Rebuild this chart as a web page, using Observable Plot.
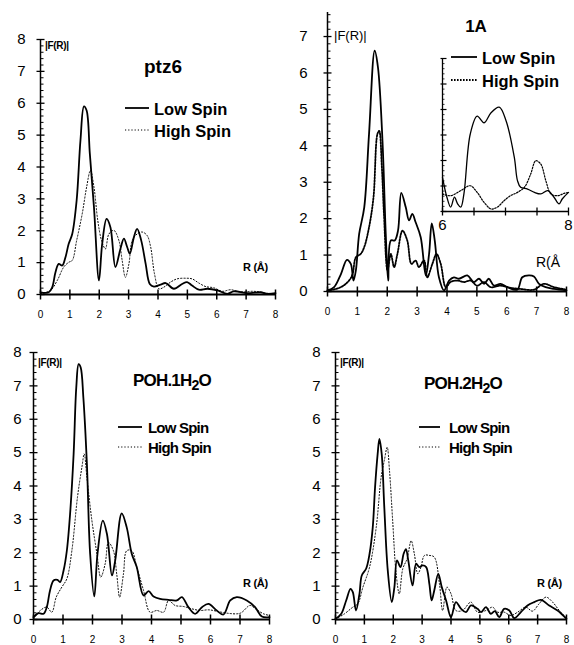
<!DOCTYPE html>
<html><head><meta charset="utf-8">
<script src="https://cdn.jsdelivr.net/npm/d3@7"></script>
<script src="https://cdn.jsdelivr.net/npm/@observablehq/plot@0.6"></script>
<style>
body{margin:0;background:#fff;}
#root{position:relative;width:574px;height:645px;font-family:"Liberation Sans",Arial,sans-serif;color:#000;overflow:hidden;background:#fff}
.abs{position:absolute;white-space:nowrap;line-height:1}
.plot{position:absolute}
svg{overflow:visible}
</style></head><body><div id="root"></div>
<script>
// ---------- DATA (R in Å, |F(R)|) ----------
const rTicks = [0,1,2,3,4,5,6,7,8];
const insetTicks = [6,6.5,7,7.5,8];
const insetLabels = [6,8];
const seriesNames = ["Low Spin","High Spin"];
const panelTitles = ["ptz6","1A","POH.1H<sub>2</sub>O","POH.2H<sub>2</sub>O"];

const ptz6Low = [[0,0.07],[0.28,0.07],[0.40,0.23],[0.51,0.70],[0.62,0.96],[0.74,0.91],[0.85,1.17],[0.96,1.59],[1.08,1.90],[1.23,2.95],[1.36,4.83],[1.48,5.90],[1.57,5.77],[1.68,4.41],[1.82,2.74],[1.99,0.44],[2.10,1.59],[2.25,2.37],[2.38,2.11],[2.55,0.86],[2.72,1.43],[2.84,1.75],[2.95,1.49],[3.04,1.28],[3.18,1.80],[3.29,2.06],[3.43,1.69],[3.58,0.96],[3.72,0.33],[3.86,0.25],[4.09,0.31],[4.26,0.36],[4.54,0.18],[4.82,0.33],[4.99,0.39],[5.16,0.28],[5.39,0.15],[5.68,0.18],[6.02,0.13],[6.36,0.02],[6.58,0.10],[7.04,0.04],[7.49,0.07],[7.72,0.02],[8,0.04]];
const ptz6High = [[0,0.02],[0.34,0.13],[0.57,0.44],[0.79,0.86],[0.96,1.01],[1.08,1.07],[1.23,1.69],[1.42,2.53],[1.57,3.37],[1.70,3.89],[1.82,3.37],[1.95,2.32],[2.08,1.69],[2.21,1.43],[2.33,1.90],[2.50,2.01],[2.67,1.69],[2.78,1.07],[2.89,0.54],[3.01,0.96],[3.12,1.69],[3.29,1.90],[3.46,1.96],[3.63,1.85],[3.75,1.49],[3.88,0.65],[4.03,0.18],[4.20,0.23],[4.43,0.39],[4.65,0.49],[4.94,0.51],[5.16,0.49],[5.39,0.36],[5.62,0.25],[5.90,0.21],[6.19,0.10],[6.47,0.15],[6.81,0.08],[7.26,0.10],[7.72,0.04],[8,0.02]];

const a1Low = [[0,0.03],[0.22,0.12],[0.45,0.48],[0.65,0.87],[0.78,0.76],[0.87,0.30],[0.95,0.58],[1.06,1.58],[1.23,2.31],[1.39,4.32],[1.58,6.61],[1.69,6.15],[1.84,4.14],[1.95,1.58],[2.03,0.30],[2.12,1.40],[2.25,1.40],[2.36,1.67],[2.47,2.71],[2.62,2.31],[2.73,1.95],[2.84,2.13],[2.95,1.90],[3.12,1.49],[3.29,0.44],[3.40,1.03],[3.49,1.87],[3.59,1.40],[3.73,0.39],[3.90,0.03],[4.07,0.30],[4.23,0.39],[4.40,0.35],[4.68,0.44],[4.90,0.26],[5.07,0.35],[5.24,0.21],[5.40,0.35],[5.57,0.16],[5.79,0.21],[6.02,0.12],[6.35,0.05],[6.52,0.39],[6.74,0.44],[6.91,0.41],[7.08,0.21],[7.30,0.12],[7.58,0.07],[8,0.03]];
const a1High = [[0,0.02],[0.45,0.12],[0.72,0.30],[0.84,0.48],[0.95,0.94],[1.11,1.03],[1.23,1.22],[1.39,1.76],[1.54,2.59],[1.67,4.32],[1.73,4.41],[1.82,3.41],[1.89,2.13],[2.01,0.58],[2.12,1.03],[2.23,0.67],[2.34,1.03],[2.51,1.67],[2.67,1.40],[2.81,0.76],[2.95,0.85],[3.06,0.67],[3.23,0.85],[3.34,0.39],[3.51,0.76],[3.65,1.03],[3.79,0.76],[3.96,0.12],[4.12,0.26],[4.35,0.30],[4.57,0.26],[4.79,0.30],[5.01,0.16],[5.24,0.26],[5.46,0.12],[5.79,0.16],[6.13,0.10],[6.46,0.07],[6.91,0.05],[7.24,0.21],[7.58,0.12],[8,0.05]];

const a1InsetLow = [[6.0,0.134],[6.07,0.056],[6.13,0.017],[6.19,0.056],[6.24,0.030],[6.29,0.017],[6.34,0.069],[6.44,0.303],[6.55,0.374],[6.66,0.348],[6.77,0.387],[6.90,0.409],[7.01,0.355],[7.14,0.212],[7.19,0.121],[7.24,0.095],[7.35,0.088],[7.46,0.075],[7.56,0.069],[7.67,0.082],[7.77,0.056],[7.85,0.030],[7.90,0.049],[8.0,0.075]];
const a1InsetHigh = [[6.0,0.069],[6.13,0.062],[6.29,0.082],[6.44,0.101],[6.55,0.075],[6.66,0.036],[6.77,0.010],[6.87,0.017],[6.98,0.043],[7.08,0.062],[7.19,0.075],[7.30,0.095],[7.40,0.147],[7.48,0.199],[7.56,0.186],[7.64,0.121],[7.72,0.069],[7.83,0.062],[7.93,0.071],[8.0,0.075]];

const poh1Low = [[0,0.07],[0.17,0.19],[0.34,0.17],[0.45,0.37],[0.56,0.87],[0.68,1.17],[0.81,1.19],[0.90,1.12],[1.02,1.47],[1.13,2.06],[1.24,3.16],[1.36,4.96],[1.45,6.95],[1.53,7.65],[1.60,7.55],[1.69,6.65],[1.81,4.66],[1.92,1.97],[2.06,0.69],[2.17,1.97],[2.35,2.96],[2.49,2.56],[2.66,1.32],[2.77,1.77],[2.99,3.18],[3.16,2.76],[3.33,1.97],[3.50,1.57],[3.73,0.72],[3.90,0.85],[4.07,0.69],[4.29,0.62],[4.58,0.59],[4.86,0.57],[5.03,0.67],[5.25,0.37],[5.48,0.17],[5.71,0.37],[5.93,0.47],[6.21,0.27],[6.44,0.15],[6.67,0.57],[6.89,0.67],[7.23,0.57],[7.51,0.37],[7.74,0.09],[8,0.07]];
const poh1High = [[0,0.02],[0.23,0.27],[0.45,0.37],[0.62,0.22],[0.77,0.67],[0.96,0.97],[1.13,1.22],[1.30,2.06],[1.49,3.66],[1.64,4.56],[1.72,4.96],[1.81,4.26],[1.98,2.96],[2.15,1.97],[2.28,1.27],[2.43,1.67],[2.54,2.31],[2.71,2.06],[2.82,1.37],[2.92,0.67],[3.05,1.37],[3.16,2.06],[3.33,2.06],[3.50,1.57],[3.73,0.87],[3.95,0.22],[4.18,0.27],[4.41,0.22],[4.58,0.57],[4.80,0.42],[5.08,0.39],[5.37,0.32],[5.65,0.27],[5.93,0.29],[6.21,0.25],[6.55,0.19],[7.01,0.19],[7.34,0.42],[7.57,0.29],[7.80,0.17],[8,0.12]];

const poh2Low = [[0,0.02],[0.20,0.17],[0.37,0.57],[0.52,0.92],[0.60,0.82],[0.71,0.27],[0.83,0.77],[0.91,1.32],[1.06,1.52],[1.18,1.97],[1.29,2.76],[1.37,3.96],[1.46,4.96],[1.52,5.41],[1.60,4.96],[1.69,3.36],[1.81,1.47],[1.95,0.52],[2.04,0.97],[2.13,1.77],[2.25,1.57],[2.36,1.97],[2.44,2.11],[2.52,1.77],[2.67,1.02],[2.79,1.67],[2.90,1.57],[3.02,1.62],[3.14,1.57],[3.25,1.07],[3.33,0.57],[3.42,0.87],[3.56,1.37],[3.68,0.97],[3.83,0.57],[4.00,0.07],[4.17,0.52],[4.35,0.32],[4.52,0.22],[4.69,0.42],[4.92,0.32],[5.04,0.22],[5.21,0.37],[5.38,0.17],[5.52,0.25],[5.67,0.07],[5.84,0.32],[6.02,0.27],[6.19,0.04],[6.42,0.22],[6.65,0.42],[6.88,0.52],[7.11,0.59],[7.40,0.42],[7.69,0.27],[8,0.02]];
const poh2High = [[0,0.01],[0.31,0.17],[0.60,0.37],[0.77,0.47],[0.95,0.97],[1.18,1.57],[1.41,2.76],[1.58,4.26],[1.69,4.76],[1.79,5.16],[1.87,4.46],[1.98,2.96],[2.10,1.37],[2.21,0.77],[2.33,1.52],[2.48,1.82],[2.62,2.36],[2.73,1.97],[2.85,1.37],[2.96,1.57],[3.08,1.92],[3.25,1.92],[3.42,1.87],[3.60,1.07],[3.71,0.27],[3.86,0.97],[4.00,0.77],[4.17,0.27],[4.40,0.27],[4.69,0.52],[4.92,0.22],[5.21,0.27],[5.44,0.37],[5.61,0.22],[5.84,0.22],[6.07,0.12],[6.31,0.22],[6.59,0.37],[6.82,0.25],[7.05,0.47],[7.29,0.67],[7.52,0.52],[7.75,0.27],[8,0.04]];

// ---------- helpers ----------
const root = document.getElementById("root");
const FONT = '"Liberation Sans", Arial, sans-serif';
const TICKC = "#000";

const vTick = (up, down) => ({draw(c) { c.moveTo(0, -up); c.lineTo(0, down); }});
const hTick = (left, right) => ({draw(c) { c.moveTo(-left, 0); c.lineTo(right, 0); }});

function place(node, left, top) {
  node.classList.add("plot");
  node.style.left = left + "px";
  node.style.top = top + "px";
  root.appendChild(node);
}
function addText(html, x, y, {size = 12, weight = "normal", anchor = "start", spacing = 0} = {}) {
  const d = document.createElement("div");
  d.className = "abs";
  d.innerHTML = html;
  d.style.left = x + "px";
  d.style.top = y + "px";
  d.style.fontSize = size + "px";
  d.style.fontWeight = weight;
  d.style.letterSpacing = spacing + "px";
  d.style.transform = `translate(${anchor === "middle" ? "-50%" : "0"}, -50%)`;
  root.appendChild(d);
}
function addLegendLine(x1, x2, y, {width = 1.8, dash = null} = {}) {
  const ns = "http://www.w3.org/2000/svg";
  const s = document.createElementNS(ns, "svg");
  s.setAttribute("width", x2 - x1); s.setAttribute("height", 6);
  s.style.position = "absolute"; s.style.left = x1 + "px"; s.style.top = (y - 3) + "px";
  const l = document.createElementNS(ns, "line");
  l.setAttribute("x1", 0); l.setAttribute("x2", x2 - x1); l.setAttribute("y1", 3); l.setAttribute("y2", 3);
  l.setAttribute("stroke", "#000"); l.setAttribute("stroke-width", width);
  if (dash) l.setAttribute("stroke-dasharray", dash);
  s.appendChild(l);
  root.appendChild(s);
}

function panel({low, high, yMax, width, height, mL, mR, mT, mB, labelPad, highWidth, highDash}) {
  const yMajor = d3.range(0, Math.floor(yMax) + 1);
  const yMinor = d3.range(0, Math.round(yMax * 5) + 1).map(i => i / 5).filter(v => Math.abs(v - Math.round(v)) > 1e-6);
  return Plot.plot({
    width, height, marginLeft: mL, marginRight: mR, marginTop: mT, marginBottom: mB,
    x: {domain: [0, 8]},
    y: {domain: [0, yMax]},
    style: {fontFamily: FONT, background: "transparent", color: "#000", overflow: "visible"},
    marks: [
      Plot.axisX(rTicks, {tickSize: 0, tickPadding: 16, fontSize: 10, tickFormat: d => d}),
      Plot.axisY(yMajor, {tickSize: 0, tickPadding: labelPad, fontSize: 15, tickFormat: d => d}),
      Plot.line(high, {x: d => d[0], y: d => d[1], curve: "catmull-rom", stroke: "#000", strokeWidth: highWidth, strokeDasharray: highDash}),
      Plot.line(low, {x: d => d[0], y: d => d[1], curve: "catmull-rom", stroke: "#000", strokeWidth: 1.8}),
      Plot.ruleY([0], {stroke: "#000", strokeWidth: 2}),
      Plot.ruleX([0], {stroke: "#000", strokeWidth: 1.5}),
      Plot.dot(rTicks, {x: d => d, y: () => 0, symbol: vTick(5, 5), fill: "none", stroke: TICKC, strokeWidth: 1.5}),
      Plot.dot(yMajor, {x: () => 0, y: d => d, symbol: hTick(4, 4), fill: "none", stroke: TICKC, strokeWidth: 1.3}),
      Plot.dot(yMinor, {x: () => 0, y: d => d, symbol: hTick(0, 3), fill: "none", stroke: TICKC, strokeWidth: 1})
    ]
  });
}

place(panel({low: ptz6Low, high: ptz6High, yMax: 8, width: 287, height: 320, mL: 40, mR: 12, mT: 39, mB: 26, labelPad: 15, highWidth: 1, highDash: "1.2,2"}), 0, 0);
place(panel({low: a1Low, high: a1High, yMax: 7.66, width: 287, height: 320, mL: 40, mR: 8, mT: 12, mB: 29, labelPad: 20, highWidth: 1.8, highDash: "1.6,1.4"}), 287, 0);
place(panel({low: poh1Low, high: poh1High, yMax: 8, width: 287, height: 325, mL: 33, mR: 18, mT: 32, mB: 26, labelPad: 12, highWidth: 1, highDash: "1.2,2"}), 0, 320);
place(panel({low: poh2Low, high: poh2High, yMax: 8, width: 287, height: 325, mL: 48, mR: 8, mT: 32, mB: 26, labelPad: 15, highWidth: 1, highDash: "1.2,2"}), 287, 320);

{
  const yMajor = d3.range(0, 7).map(i => i / 10);
  const yMinor = d3.range(0, 31).map(i => i / 50).filter(v => Math.abs(v * 10 - Math.round(v * 10)) > 1e-6);
  const inset = Plot.plot({
    width: 144, height: 200, marginLeft: 12, marginRight: 6, marginTop: 18, marginBottom: 29,
    x: {domain: [6, 8]},
    y: {domain: [0, 0.6], axis: null},
    style: {fontFamily: FONT, background: "transparent", color: "#000", overflow: "visible"},
    marks: [
      Plot.axisX(insetLabels, {tickSize: 0, tickPadding: 8, fontSize: 15, tickFormat: d => d}),
      Plot.line(a1InsetHigh, {x: d => d[0], y: d => d[1], curve: "catmull-rom", stroke: "#000", strokeWidth: 1.2, strokeDasharray: "1.5,1.5"}),
      Plot.line(a1InsetLow, {x: d => d[0], y: d => d[1], curve: "catmull-rom", stroke: "#000", strokeWidth: 1.3}),
      Plot.ruleY([0], {stroke: "#000", strokeWidth: 1.5}),
      Plot.ruleX([6], {stroke: "#000", strokeWidth: 1.3}),
      Plot.dot(insetTicks, {x: d => d, y: () => 0, symbol: vTick(4, 4), fill: "none", stroke: "#000", strokeWidth: 1.3}),
      Plot.dot(yMajor, {x: () => 6, y: d => d, symbol: hTick(2, 4), fill: "none", stroke: "#000", strokeWidth: 1.2}),
      Plot.dot(yMinor, {x: () => 6, y: d => d, symbol: hTick(0, 2), fill: "none", stroke: "#000", strokeWidth: 0.8})
    ]
  });
  place(inset, 430, 40);
}

addText(panelTitles[0], 163, 66, {size: 19, weight: "bold", anchor: "middle"});
addText(panelTitles[1], 476, 26, {size: 17, weight: "bold", anchor: "middle"});
addText(panelTitles[2], 172, 382, {size: 17, weight: "bold", anchor: "middle", spacing: -0.8});
addText(panelTitles[3], 463, 385, {size: 17, weight: "bold", anchor: "middle", spacing: -0.8});

addText("|F(R)|", 45, 46, {size: 10, weight: "bold", spacing: -0.3});
addText("|F(R)|", 334, 35, {size: 13});
addText("|F(R)|", 38, 363, {size: 10, weight: "bold", spacing: -0.3});
addText("|F(R)|", 340, 363, {size: 10, weight: "bold", spacing: -0.3});

addText("R (Å)", 243, 267, {size: 11, weight: "bold", spacing: -0.3});
addText("R(Å", 536, 262, {size: 14});
addText("R (Å)", 243, 583, {size: 11, weight: "bold", spacing: -0.3});
addText("R (Å)", 537, 583, {size: 11, weight: "bold", spacing: -0.3});

addLegendLine(125, 149, 108, {width: 1.8});
addLegendLine(125, 149, 130, {width: 1, dash: "1.2,2"});
addText(seriesNames[0], 154, 109, {size: 16.5, weight: "bold"});
addText(seriesNames[1], 154, 131, {size: 16.5, weight: "bold"});

addLegendLine(451, 477, 57, {width: 1.8});
addLegendLine(451, 477, 80, {width: 1.8, dash: "1.6,1.4"});
addText(seriesNames[0], 482, 58, {size: 16.5, weight: "bold"});
addText(seriesNames[1], 482, 81, {size: 16.5, weight: "bold"});

addLegendLine(118, 142, 427, {width: 1.8});
addLegendLine(118, 142, 447, {width: 1, dash: "1.2,2"});
addText(seriesNames[0], 148, 427, {size: 15, weight: "bold", spacing: -0.8});
addText(seriesNames[1], 148, 447, {size: 15, weight: "bold", spacing: -0.8});

addLegendLine(419, 440, 427, {width: 1.8});
addLegendLine(419, 440, 447, {width: 1, dash: "1.2,2"});
addText(seriesNames[0], 449, 427, {size: 15, weight: "bold", spacing: -0.8});
addText(seriesNames[1], 449, 447, {size: 15, weight: "bold", spacing: -0.8});
</script></body></html>
